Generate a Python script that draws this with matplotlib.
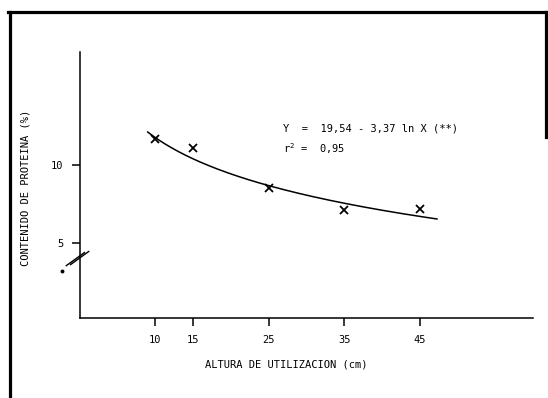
import matplotlib.pyplot as plt
import numpy as np
from matplotlib.lines import Line2D
from matplotlib.path import Path

# datos
altura = [10, 15, 25, 35, 45]
proteina = [11.7, 11.1, 8.55, 7.15, 7.2]
xticks = [10, 15, 25, 35, 45]
yticks = [5, 10]
# coeficientes de la ecuacion del grafico: Y = a - b ln X
coef_a = 19.54
coef_b = 3.37
x_curva = (9.0, 47.3)

plt.rcParams['font.family'] = ['DejaVu Sans Mono']
plt.rcParams['mathtext.fontset'] = 'custom'
plt.rcParams['mathtext.rm'] = 'DejaVu Sans Mono'
fs = 7.5

fig = plt.figure(figsize=(5.48, 3.98), dpi=100)
ax = fig.add_axes([0.1455, 0.200, 0.827, 0.670])

xs = np.linspace(x_curva[0], x_curva[1], 200)
ax.plot(xs, coef_a - coef_b * np.log(xs), color='black', lw=1.1)
ax.plot(altura, proteina, linestyle='none', marker='x', color='black',
        markersize=6, markeredgewidth=1.3)

ax.set_xlim(0, 60)
ax.set_ylim(0.15, 17.3)
ax.set_xticks(xticks)
ax.set_yticks(yticks)
ax.tick_params(axis='both', direction='out', length=6, width=1.1,
               labelsize=fs, pad=6, color='black')
for s in ['top', 'right']:
    ax.spines[s].set_visible(False)
for s in ['left', 'bottom']:
    ax.spines[s].set_linewidth(1.1)

ax.set_xlabel('ALTURA DE UTILIZACION (cm)', fontsize=fs)
ax.xaxis.set_label_coords(0.455, -0.155)
ax.set_ylabel('CONTENIDO DE PROTEINA (%)', fontsize=fs)
ax.yaxis.set_label_coords(-0.108, 0.49)

ax.text(26.9, 12.36, 'Y  =  19,54 - 3,37 ln X (**)', fontsize=fs, va='center')
ax.text(26.9, 11.07, r'r$\mathrm{^2}$ =  0,95', fontsize=fs, va='center')

# corte del eje y
corte = Path([(-11, -8), (7, 5), (-7, -7), (11, 6)],
             [Path.MOVETO, Path.LINETO, Path.MOVETO, Path.LINETO])
ax.plot([-0.4], [4.1], marker=corte, markersize=17, color='black',
        markeredgewidth=1.0, clip_on=False)
ax.plot([-2.3], [3.2], marker='o', markersize=1.8, color='black', clip_on=False)

# marco
W, H = 548.0, 398.0
marco = [((8, 546), (12, 12)), ((10, 10), (12, 398)), ((546, 546), (12, 137))]
for xx, yy in marco:
    fig.add_artist(Line2D([x / W for x in xx], [1 - y / H for y in yy],
                          color='black', lw=2.3, transform=fig.transFigure))

fig.savefig('out.png', dpi=100)
